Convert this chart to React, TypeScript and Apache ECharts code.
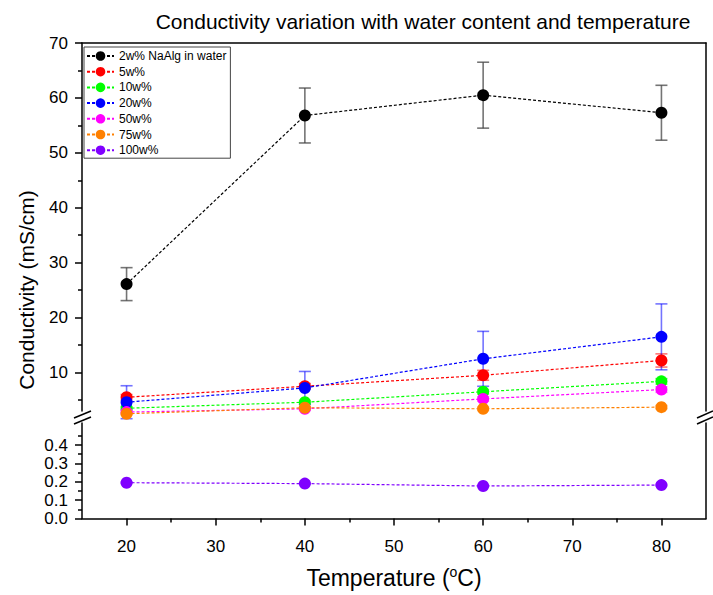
import React, { useEffect, useRef } from "react";
import * as echarts from "echarts";

const FONT = "Liberation Sans, Arial, sans-serif";

const temperatures = [20, 40, 60, 80];
const seriesNames = ["2w% NaAlg in water", "5w%", "10w%", "20w%", "50w%", "75w%", "100w%"];
const seriesColors = ["#000000", "#FF0000", "#00FF00", "#0000FF", "#FF00FF", "#FF8000", "#8000FF"];
const errorColors = [
  "rgba(70,70,70,0.75)",
  "rgba(255,0,0,0.55)",
  "rgba(0,255,0,0.55)",
  "rgba(0,0,255,0.55)",
  "rgba(255,0,255,0.55)",
  "rgba(255,128,0,0.55)",
  "rgba(128,0,255,0.55)",
];

const naAlg2 = [26.1, 56.8, 60.5, 57.3];
const naAlg2Err = [3.0, 5.0, 6.0, 5.0];
const w5 = [5.5, 7.5, 9.5, 12.2];
const w5Err = [0.5, 0.5, 0.9, 1.2];
const w10 = [3.5, 4.6, 6.5, 8.4];
const w10Err = [0.3, 0.3, 0.4, 0.5];
const w20 = [4.6, 7.2, 12.5, 16.5];
const w20Err = [3.0, 3.0, 5.0, 6.0];
const w50 = [2.8, 3.4, 5.2, 6.9];
const w50Err = [0.3, 0.3, 0.4, 0.5];
const w75 = [2.5, 3.6, 3.4, 3.7];
const w75Err = [0.2, 0.2, 0.3, 0.3];
const w100 = [0.195, 0.19, 0.177, 0.182];
const w100Err = [0.004, 0.004, 0.004, 0.004];

const xTicks = [20, 30, 40, 50, 60, 70, 80];
const xMinorTicks = [25, 35, 45, 55, 65, 75];
const yUpperTicks = [10, 20, 30, 40, 50, 60, 70];
const yUpperMinor = [5, 15, 25, 35, 45, 55, 65];
const yLowerTicks = [0, 0.1, 0.2, 0.3, 0.4];
const yLowerMinor = [0.05, 0.15, 0.25, 0.35, 0.45];

const allValues = [naAlg2, w5, w10, w20, w50, w75, w100];
const allErrors = [naAlg2Err, w5Err, w10Err, w20Err, w50Err, w75Err, w100Err];

export default function App() {
  const ref = useRef<HTMLDivElement>(null);

  useEffect(() => {
    document.body.style.margin = "0";
    if (!ref.current) return;
    const chart = echarts.init(ref.current, undefined, { renderer: "svg" });

    const axisLineStyle = { color: "#000", width: 1.5 };
    const tickLabel = { fontFamily: FONT, fontSize: 17, color: "#000" };

    const lineSeries: any[] = [];
    const errSeries: any[] = [];
    allValues.forEach((vals, i) => {
      const lower = i === 6;
      const data = temperatures.map((t, k) => [t, vals[k]]);
      const errData = temperatures.map((t, k) => [t, vals[k], allErrors[i][k]]);
      const ec = errorColors[i];
      errSeries.push({
        type: "custom",
        name: "err" + i,
        xAxisIndex: lower ? 1 : 0,
        yAxisIndex: lower ? 3 : 0,
        clip: false,
        z: 2,
        encode: { x: 0, y: 1 },
        data: errData,
        renderItem: (params: any, api: any) => {
          const x = api.value(0);
          const y = api.value(1);
          const e = api.value(2);
          const top = api.coord([x, y + e]);
          const bot = api.coord([x, y - e]);
          const hw = 6;
          const style = { stroke: ec, lineWidth: 1.6 };
          return {
            type: "group",
            children: [
              { type: "line", shape: { x1: top[0], y1: top[1], x2: bot[0], y2: bot[1] }, style },
              { type: "line", shape: { x1: top[0] - hw, y1: top[1], x2: top[0] + hw, y2: top[1] }, style },
              { type: "line", shape: { x1: bot[0] - hw, y1: bot[1], x2: bot[0] + hw, y2: bot[1] }, style },
            ],
          };
        },
      });
      lineSeries.push({
        type: "line",
        name: seriesNames[i],
        xAxisIndex: lower ? 1 : 0,
        yAxisIndex: lower ? 3 : 0,
        data,
        clip: false,
        z: 3 + i,
        symbol: "circle",
        symbolSize: 12,
        color: seriesColors[i],
        itemStyle: { color: seriesColors[i] },
        lineStyle: { color: seriesColors[i], width: 1.2, type: [3, 2] },
      });
    });

    const option: any = {
      animation: false,
      backgroundColor: "#fff",
      title: {
        text: "Conductivity variation with water content and temperature",
        left: 418,
        textAlign: "center",
        top: 6,
        textStyle: { fontFamily: FONT, fontSize: 21, fontWeight: "normal", color: "#000" },
      },
      legend: {
        data: seriesNames,
        orient: "vertical",
        left: 84,
        top: 47,
        itemWidth: 27,
        itemHeight: 12,
        itemGap: 3.7,
        padding: [3, 4, 2, 2],
        borderColor: "#444",
        borderWidth: 1,
        textStyle: { fontFamily: FONT, fontSize: 12, color: "#000", lineHeight: 12 },
      },
      grid: [
        { left: 82, right: 7, top: 43, height: 368 },
        { left: 82, right: 7, top: 423, height: 95.5 },
      ],
      xAxis: [
        {
          type: "value",
          gridIndex: 0,
          position: "top",
          min: 15,
          max: 85,
          axisLine: { show: true, onZero: false, lineStyle: axisLineStyle },
          axisTick: { show: false },
          axisLabel: { show: false },
          splitLine: { show: false },
        },
        {
          type: "value",
          gridIndex: 1,
          position: "bottom",
          min: 15,
          max: 85,
          axisLine: { show: true, onZero: false, lineStyle: axisLineStyle },
          axisTick: { show: true, inside: false, length: 7, customValues: xTicks, lineStyle: axisLineStyle },
          axisLabel: { ...tickLabel, margin: 19, customValues: xTicks },
          splitLine: { show: false },
          name: "{a|Temperature (}{s|o}{a|C)}",
          nameLocation: "middle",
          nameGap: 46,
          nameTextStyle: {
            rich: {
              a: { fontFamily: FONT, fontSize: 23, color: "#000", lineHeight: 26 },
              s: { fontFamily: FONT, fontSize: 14, color: "#000", lineHeight: 15, verticalAlign: "top" },
            },
          },
        },
        {
          type: "value",
          gridIndex: 1,
          position: "bottom",
          min: 15,
          max: 85,
          axisLine: { show: false, onZero: false },
          axisTick: { show: true, inside: false, length: 4, customValues: xMinorTicks, lineStyle: axisLineStyle },
          axisLabel: { show: false },
          splitLine: { show: false },
        },
      ],
      yAxis: [
        {
          type: "value",
          gridIndex: 0,
          position: "left",
          min: 3,
          max: 70,
          axisLine: { show: true, onZero: false, lineStyle: axisLineStyle },
          axisTick: { show: true, inside: false, length: 7, customValues: yUpperTicks, lineStyle: axisLineStyle },
          axisLabel: { ...tickLabel, margin: 14, customValues: yUpperTicks },
          splitLine: { show: false },
        },
        {
          type: "value",
          gridIndex: 0,
          position: "left",
          min: 3,
          max: 70,
          axisLine: { show: false, onZero: false },
          axisTick: { show: true, inside: false, length: 4, customValues: yUpperMinor, lineStyle: axisLineStyle },
          axisLabel: { show: false },
          splitLine: { show: false },
        },
        {
          type: "value",
          gridIndex: 0,
          position: "right",
          min: 3,
          max: 70,
          axisLine: { show: true, onZero: false, lineStyle: axisLineStyle },
          axisTick: { show: false },
          axisLabel: { show: false },
          splitLine: { show: false },
        },
        {
          type: "value",
          gridIndex: 1,
          position: "left",
          min: 0,
          max: 0.52,
          axisLine: { show: true, onZero: false, lineStyle: axisLineStyle },
          axisTick: { show: true, inside: false, length: 7, customValues: yLowerTicks, lineStyle: axisLineStyle },
          axisLabel: {
            ...tickLabel,
            margin: 14,
            customValues: yLowerTicks,
            formatter: (v: number) => v.toFixed(1),
          },
          splitLine: { show: false },
        },
        {
          type: "value",
          gridIndex: 1,
          position: "left",
          min: 0,
          max: 0.52,
          axisLine: { show: false, onZero: false },
          axisTick: { show: true, inside: false, length: 4, customValues: yLowerMinor, lineStyle: axisLineStyle },
          axisLabel: { show: false },
          splitLine: { show: false },
        },
        {
          type: "value",
          gridIndex: 1,
          position: "right",
          min: 0,
          max: 0.52,
          axisLine: { show: true, onZero: false, lineStyle: axisLineStyle },
          axisTick: { show: false },
          axisLabel: { show: false },
          splitLine: { show: false },
        },
      ],
      graphic: [
        {
          type: "text",
          x: 26,
          y: 290,
          rotation: Math.PI / 2,
          style: {
            text: "Conductivity (mS/cm)",
            fontFamily: FONT,
            fontSize: 21,
            fill: "#000",
            align: "center",
            verticalAlign: "middle",
          },
        },
        { type: "line", shape: { x1: 74, y1: 418, x2: 91, y2: 411 }, style: { stroke: "#000", lineWidth: 1.5 } },
        { type: "line", shape: { x1: 74, y1: 424, x2: 91, y2: 417 }, style: { stroke: "#000", lineWidth: 1.5 } },
        { type: "line", shape: { x1: 697, y1: 418, x2: 713, y2: 411 }, style: { stroke: "#000", lineWidth: 1.5 } },
        { type: "line", shape: { x1: 697, y1: 424, x2: 713, y2: 417 }, style: { stroke: "#000", lineWidth: 1.5 } },
      ],
      series: [...errSeries, ...lineSeries],
    };

    chart.setOption(option);
    return () => chart.dispose();
  }, []);

  return <div ref={ref} style={{ width: 713, height: 595 }} />;
}
